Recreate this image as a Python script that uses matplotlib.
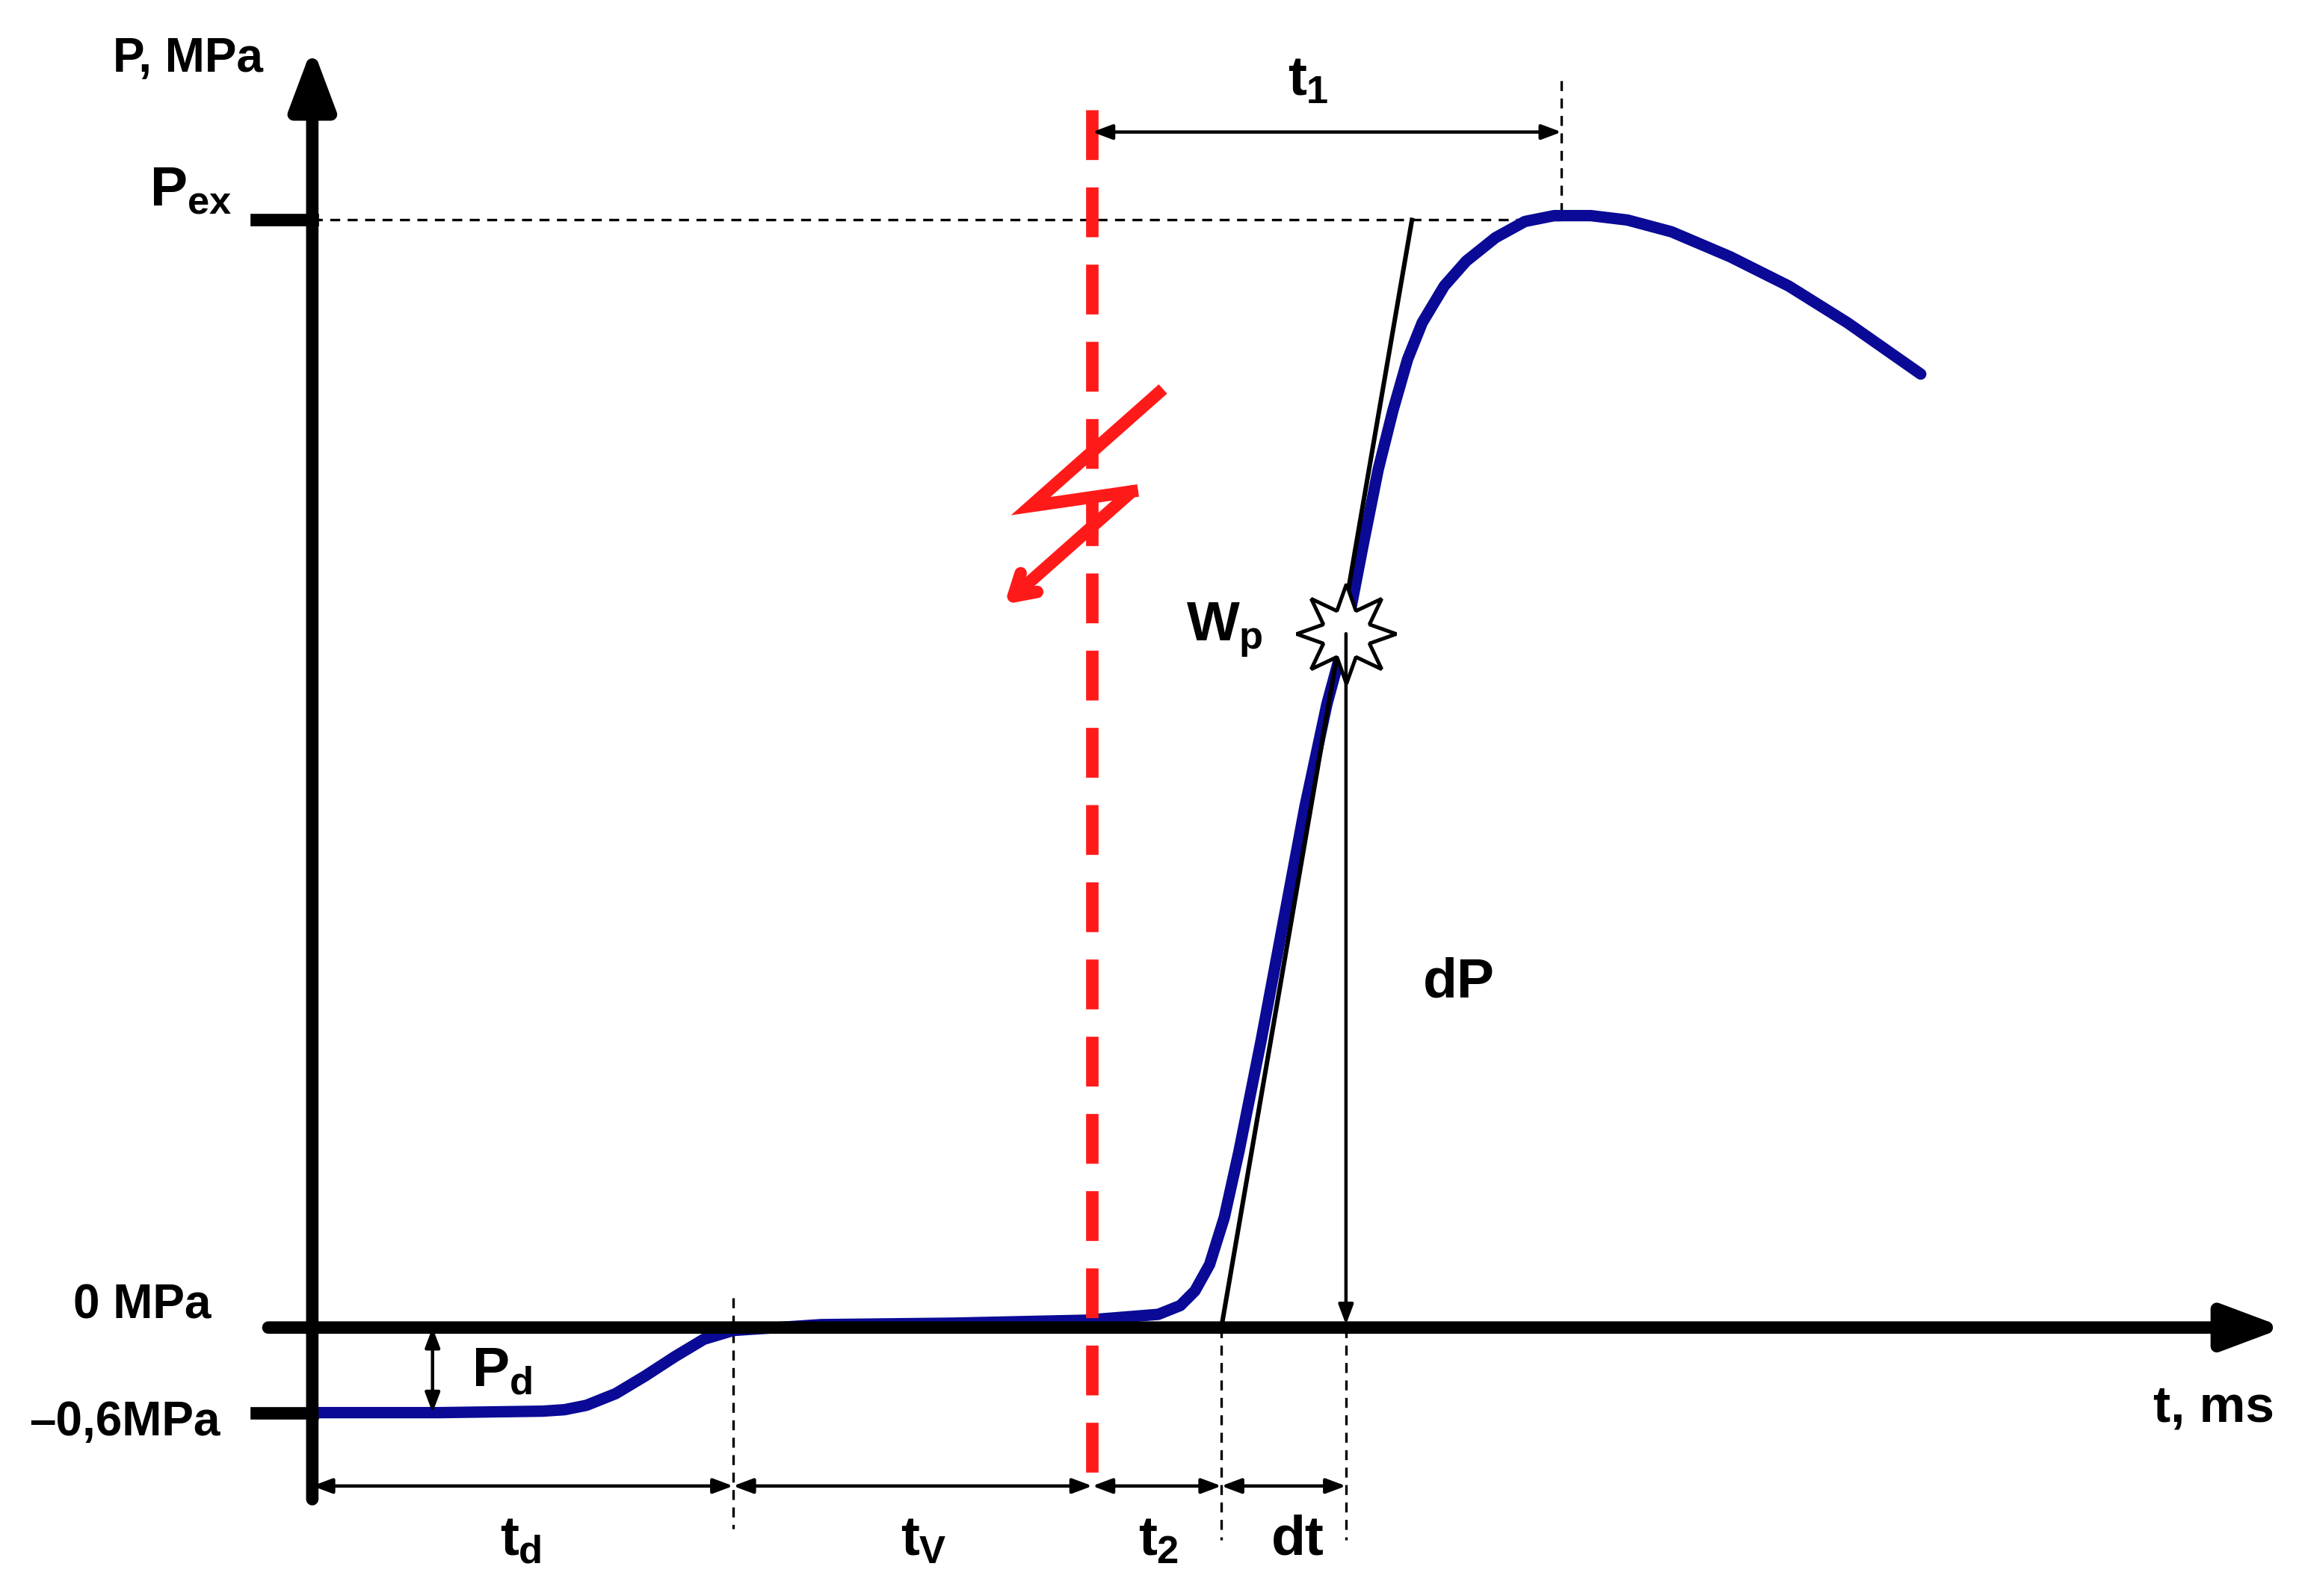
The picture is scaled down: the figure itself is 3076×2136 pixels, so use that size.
import numpy as np
import matplotlib.pyplot as plt

plt.rcParams['font.family'] = ['Liberation Sans', 'DejaVu Sans']
plt.rcParams['font.weight'] = 'bold'
plt.rcParams['mathtext.fontset'] = 'custom'
plt.rcParams['mathtext.rm'] = 'Liberation Sans:bold'
plt.rcParams['mathtext.it'] = 'Liberation Sans:bold'
plt.rcParams['mathtext.bf'] = 'Liberation Sans:bold'

# schematic coordinates (picture units, y grows downward)
curve_x = [215, 300, 370, 385, 400, 420, 440, 460, 480, 500, 560, 650, 740, 790,
           805, 815, 825, 835, 845, 860, 875, 890, 905, 918, 930, 940, 950, 960,
           970, 985, 1000, 1020, 1040, 1060, 1085, 1110, 1140, 1180, 1220, 1260, 1310]
curve_y = [963, 963, 962, 961, 958, 950, 938, 925, 913, 907, 903, 902, 900, 896,
           890, 880, 862, 830, 785, 710, 630, 550, 480, 432, 370, 320, 280, 245,
           220, 195, 178, 162, 151, 147, 147, 150, 158, 175, 195, 220, 255]
tangent_x = [833, 963]
tangent_y = [905, 150]
bolt_x = [790, 703, 772, 700]
bolt_y = [268, 345, 335, 400]
y_zero, y_neg, y_ex = 905, 963, 150
t_marks = [213, 500, 745, 833, 918]
t_labels = ['$t_d$', '$t_V$', '$t_2$', 'dt']
t_label_x = [355, 630, 790, 885]
wp_x, wp_y = 918, 432
t1_end = 1065

fig = plt.figure(figsize=(15.38, 10.68), dpi=200)
ax = fig.add_axes([0, 0, 1, 1])
ax.set_xlim(0, 1568)
ax.set_ylim(1088, 0)
ax.axis('off')

arrow_kw = dict(arrowstyle='-|>,head_length=2.4,head_width=0.9', lw=6, color='black',
                shrinkA=0, shrinkB=0)
ax.annotate('', xy=(213, 32), xytext=(213, 1022), arrowprops=arrow_kw)
ax.annotate('', xy=(1558, y_zero), xytext=(183, y_zero), arrowprops=arrow_kw)

ax.plot([175, 213], [y_ex, y_ex], color='black', lw=6)
ax.plot([175, 213], [y_neg, y_neg], color='black', lw=6)

dash = dict(color='black', lw=1.2, ls=(0, (4, 3)))
ax.plot([213, t1_end], [y_ex, y_ex], **dash)
ax.plot([t1_end, t1_end], [55, y_ex], **dash)
ax.plot([500, 500], [885, 1042], **dash)
ax.plot([833, 833], [y_zero, 1050], **dash)
ax.plot([918, 918], [y_zero, 1050], **dash)

ax.plot(curve_x, curve_y, color='#0a0a96', lw=5.5, solid_capstyle='round',
        solid_joinstyle='round')
ax.plot(tangent_x, tangent_y, color='black', lw=2.2)

ax.plot([745, 745], [75, 1022], color='#ff1a1a', lw=6, ls=(0, (4, 2.2)))
ax.plot(bolt_x[:3], bolt_y[:3], color='#ff1a1a', lw=6, solid_joinstyle='miter')
ax.annotate('', xy=(685, 412), xytext=(bolt_x[2], bolt_y[2]),
            arrowprops=dict(arrowstyle='->,head_length=1.0,head_width=0.6', lw=6,
                            color='#ff1a1a', shrinkA=0, shrinkB=0))

dbl = dict(arrowstyle='<|-|>,head_length=0.8,head_width=0.3', lw=1.6, color='black',
           shrinkA=0, shrinkB=0)
ax.annotate('', xy=(745, 90), xytext=(t1_end, 90), arrowprops=dbl)
for a, b in zip(t_marks[:-1], t_marks[1:]):
    ax.annotate('', xy=(a, 1013), xytext=(b, 1013), arrowprops=dbl)
ax.annotate('', xy=(295, y_zero), xytext=(295, y_neg), arrowprops=dbl)
ax.annotate('', xy=(918, y_zero - 2), xytext=(918, wp_y),
            arrowprops=dict(arrowstyle='-|>,head_length=0.8,head_width=0.3', lw=1.6,
                            color='black', shrinkA=0, shrinkB=0))

ax.plot(wp_x, wp_y, marker=(8, 1, 0), ms=48, mfc='white', mec='black', mew=1.8)

fs = 23
ax.text(128, 40, 'P, MPa', fontsize=fs, ha='center', va='center')
ax.text(130, 130, '$P_{ex}$', fontsize=27, ha='center', va='center')
ax.text(97, 890, '0 MPa', fontsize=fs, ha='center', va='center')
ax.text(85, 970, '–0,6MPa', fontsize=fs, ha='center', va='center')
ax.text(1510, 960, 't, ms', fontsize=25, ha='center', va='center')
ax.text(342, 935, '$P_d$', fontsize=27, ha='center', va='center')
ax.text(892, 55, '$t_1$', fontsize=27, ha='center', va='center')
ax.text(835, 430, '$W_p$', fontsize=27, ha='center', va='center')
ax.text(995, 670, 'dP', fontsize=27, ha='center', va='center')
for lx, lab in zip(t_label_x, t_labels):
    ax.text(lx, 1050, lab, fontsize=27, ha='center', va='center')

fig.savefig('out.png', dpi=200)
